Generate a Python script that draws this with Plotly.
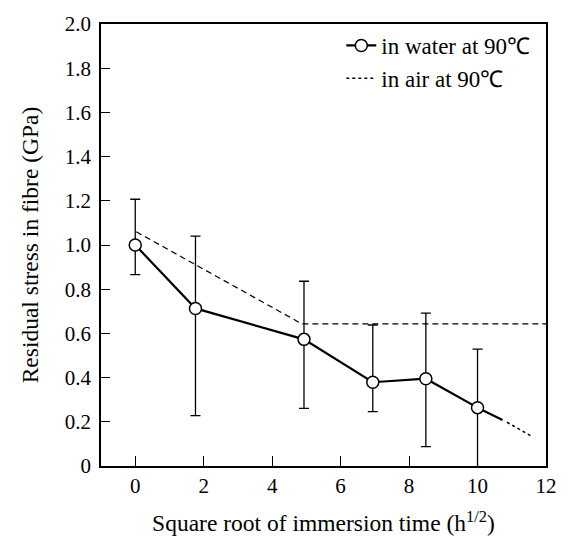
import plotly.graph_objects as go

# Data
time_water = [0, 1.76, 4.93, 6.94, 8.49, 10.0]
stress_water = [1.00, 0.713, 0.573, 0.379, 0.395, 0.264]
err_plus = [0.207, 0.327, 0.263, 0.259, 0.297, 0.265]
err_minus = [0.134, 0.485, 0.312, 0.133, 0.307, 0.30]

ext_solid_x = [10.0, 10.73]
ext_solid_y = [0.264, 0.208]

air_x = [10.86, 11.58]
air_y = [0.198, 0.134]

dash_x = [0.03, 4.87, 12.0]
dash_y = [1.06, 0.643, 0.643]

x_ticks = [0, 2, 4, 6, 8, 10, 12]
y_ticks = [0, 0.2, 0.4, 0.6, 0.8, 1.0, 1.2, 1.4, 1.6, 1.8, 2.0]
y_ticktext = ["0", "0.2", "0.4", "0.6", "0.8", "1.0", "1.2", "1.4", "1.6", "1.8", "2.0"]

FONT = "Liberation Serif, Times New Roman, serif"

fig = go.Figure()

fig.add_trace(go.Scatter(
    x=dash_x, y=dash_y, mode="lines",
    line=dict(color="black", width=1.2, dash="6px,4px"),
    showlegend=False, hoverinfo="skip"))

fig.add_trace(go.Scatter(
    x=ext_solid_x, y=ext_solid_y, mode="lines",
    line=dict(color="black", width=2.2),
    showlegend=False, hoverinfo="skip"))

fig.add_trace(go.Scatter(
    x=air_x, y=air_y, mode="lines",
    line=dict(color="black", width=1.5, dash="dot"),
    name="in air at 90℃"))

fig.add_trace(go.Scatter(
    x=time_water, y=stress_water, mode="lines+markers",
    line=dict(color="black", width=2.2),
    marker=dict(symbol="circle", size=12, color="white",
                line=dict(color="black", width=1.5)),
    error_y=dict(type="data", symmetric=False, array=err_plus,
                 arrayminus=err_minus, color="black", thickness=1.3, width=5),
    name="in water at 90℃"))

fig.update_layout(
    width=569, height=545,
    margin=dict(l=101, r=17, t=17, b=79),
    paper_bgcolor="white", plot_bgcolor="white",
    font=dict(family=FONT, size=21, color="black"),
    legend=dict(x=0.54, y=1.0, xanchor="left", yanchor="top",
                bgcolor="rgba(0,0,0,0)", traceorder="reversed",
                font=dict(family=FONT, size=23, color="black"),
                tracegroupgap=0),
    xaxis=dict(range=[-1, 12], tickvals=x_ticks, ticks="inside", ticklen=10,
               tickwidth=1.3, tickcolor="black", showline=True, linecolor="black",
               linewidth=1.5, mirror=True, showgrid=False, zeroline=False,
               tickfont=dict(family=FONT, size=21),
               title=dict(text="Square root of immersion time (h<sup>1/2</sup>)",
                          font=dict(family=FONT, size=23.5), standoff=18)),
    yaxis=dict(range=[0, 2], tickvals=y_ticks, ticktext=y_ticktext, ticks="inside",
               ticklen=9, tickwidth=1.3, tickcolor="black", showline=True,
               linecolor="black", linewidth=1.5, mirror=True, showgrid=False,
               zeroline=False, tickfont=dict(family=FONT, size=21),
               ticklabelstandoff=4,
               title=dict(text="Residual stress in fibre (GPa)",
                          font=dict(family=FONT, size=23.5), standoff=20)),
)

fig.write_html("out.html")
